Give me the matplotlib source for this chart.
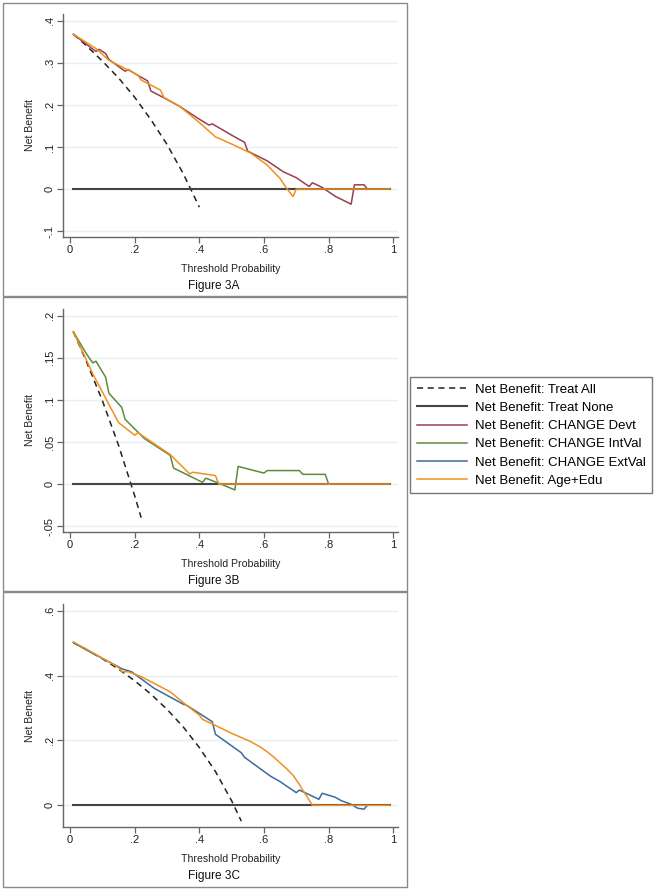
import matplotlib
matplotlib.use("Agg")
import matplotlib.pyplot as plt
from matplotlib.patches import Rectangle

plt.rcParams['font.family'] = ['Liberation Sans', 'DejaVu Sans']

# ---- data ----
x_ticks = [0, 0.2, 0.4, 0.6, 0.8, 1]
x_tick_labels = ['0', '.2', '.4', '.6', '.8', '1']

none_x = [0.01, 0.99]
none_y = [0.0, 0.0]

# Figure 3A
a_yticks = [-0.1, 0, 0.1, 0.2, 0.3, 0.4]
a_ylabels = ['-.1', '0', '.1', '.2', '.3', '.4']
a_all_x = [0.01, 0.05, 0.10, 0.15, 0.20, 0.25, 0.30, 0.35, 0.40]
a_all_y = [0.368, 0.341, 0.304, 0.264, 0.218, 0.165, 0.106, 0.037, -0.043]
a_devt_x = [0.01, 0.04, 0.08, 0.09, 0.11, 0.12, 0.17, 0.18, 0.21, 0.24, 0.25, 0.29,
            0.34, 0.40, 0.43, 0.44, 0.50, 0.54, 0.55, 0.61, 0.66, 0.70, 0.74, 0.75,
            0.78, 0.82, 0.87, 0.88, 0.91, 0.92]
a_devt_y = [0.368, 0.350, 0.327, 0.332, 0.322, 0.308, 0.280, 0.284, 0.270, 0.257, 0.233, 0.217,
            0.196, 0.166, 0.152, 0.155, 0.128, 0.111, 0.090, 0.067, 0.041, 0.027, 0.006, 0.015,
            0.004, -0.017, -0.036, 0.010, 0.010, 0.0]
a_age_x = [0.01, 0.08, 0.12, 0.21, 0.22, 0.28, 0.29, 0.34, 0.40, 0.45, 0.50, 0.56,
           0.61, 0.65, 0.67, 0.69, 0.70, 0.99]
a_age_y = [0.368, 0.334, 0.306, 0.271, 0.259, 0.235, 0.218, 0.196, 0.158, 0.124, 0.107, 0.085,
           0.057, 0.025, 0.002, -0.018, 0.0, 0.0]

# Figure 3B
b_yticks = [-0.05, 0, 0.05, 0.1, 0.15, 0.2]
b_ylabels = ['-.05', '0', '.05', '.1', '.15', '.2']
b_all_x = [0.01, 0.05, 0.10, 0.15, 0.20, 0.22]
b_all_y = [0.181, 0.146, 0.099, 0.046, -0.014, -0.040]
b_intval_x = [0.01, 0.05, 0.07, 0.08, 0.11, 0.12, 0.16, 0.17, 0.23, 0.31, 0.32, 0.41,
              0.42, 0.46, 0.51, 0.52, 0.60, 0.61, 0.71, 0.72, 0.79, 0.80]
b_intval_y = [0.181, 0.155, 0.144, 0.146, 0.127, 0.108, 0.091, 0.077, 0.054, 0.034, 0.019, 0.002,
              0.007, 0.001, -0.007, 0.021, 0.013, 0.016, 0.016, 0.0115, 0.0115, 0.0]
b_age_x = [0.01, 0.07, 0.15, 0.20, 0.21, 0.31, 0.37, 0.38, 0.45, 0.46, 0.99]
b_age_y = [0.181, 0.131, 0.073, 0.058, 0.061, 0.035, 0.012, 0.014, 0.010, 0.0, 0.0]

# Figure 3C
c_yticks = [0, 0.2, 0.4, 0.6]
c_ylabels = ['0', '.2', '.4', '.6']
c_all_x = [0.01, 0.05, 0.10, 0.15, 0.20, 0.25, 0.30, 0.35, 0.40, 0.45, 0.50, 0.53]
c_all_y = [0.502, 0.481, 0.452, 0.420, 0.384, 0.343, 0.296, 0.242, 0.178, 0.104, 0.014, -0.049]
c_extval_x = [0.01, 0.06, 0.15, 0.16, 0.19, 0.26, 0.35, 0.36, 0.44, 0.45, 0.53, 0.54,
              0.62, 0.65, 0.70, 0.71, 0.77, 0.78, 0.82, 0.84, 0.87, 0.89, 0.91, 0.92]
c_extval_y = [0.502, 0.474, 0.427, 0.421, 0.412, 0.361, 0.312, 0.309, 0.258, 0.219, 0.162, 0.148,
              0.090, 0.073, 0.039, 0.047, 0.0185, 0.037, 0.025, 0.014, 0.003, -0.009, -0.012, 0.0]
c_age_x = [0.01, 0.07, 0.15, 0.16, 0.18, 0.22, 0.31, 0.36, 0.40, 0.41, 0.44, 0.50,
           0.53, 0.56, 0.59, 0.61, 0.63, 0.65, 0.67, 0.69, 0.71, 0.72, 0.73, 0.74, 0.75, 0.99]
c_age_y = [0.504, 0.471, 0.425, 0.412, 0.412, 0.397, 0.350, 0.309, 0.278, 0.265, 0.251, 0.222,
           0.209, 0.196, 0.179, 0.165, 0.149, 0.131, 0.113, 0.093, 0.064, 0.047, 0.032, 0.016, 0.0, 0.0]

C_ALL = '#222222'
C_NONE = '#444444'
C_DEVT = '#96404F'
C_INTVAL = '#5E8A3E'
C_EXTVAL = '#3C6A9A'
C_AGE = '#F0901E'

W, H = 666, 892


def px_axes(fig, left, top, right, bottom):
    return fig.add_axes([left / W, 1 - bottom / H, (right - left) / W, (bottom - top) / H])


def style_panel(ax, yticks, ylabels, ylim):
    ax.set_xlim(-0.022, 1.015)
    ax.set_ylim(*ylim)
    ax.set_xticks(x_ticks)
    ax.set_xticklabels(x_tick_labels)
    ax.set_yticks(yticks)
    ax.set_yticklabels(ylabels, rotation=90, va='center')
    for s in ['top', 'right']:
        ax.spines[s].set_visible(False)
    for s in ['left', 'bottom']:
        ax.spines[s].set_color('#666666')
        ax.spines[s].set_linewidth(1.0)
    ax.tick_params(direction='out', length=4, width=0.9, color='#666666',
                   labelsize=8, labelcolor='#222222', pad=2)
    ax.grid(axis='y', color='#E6EFF1', linewidth=1.0)
    ax.set_axisbelow(True)
    ax.set_xlabel('Threshold Probability', fontsize=7.6, color='#222222')
    ax.xaxis.set_label_coords(0.5, -0.1435)
    ax.xaxis.label.set_va('center')
    ax.set_ylabel('Net Benefit', fontsize=7.6, color='#222222')
    ax.yaxis.set_label_coords(-0.0985, 0.5)
    ax.yaxis.label.set_va('center')


def plot_base(ax, all_x, all_y):
    h_all, = ax.plot(all_x, all_y, color=C_ALL, lw=1.1, ls=(0, (4, 3)))
    h_none, = ax.plot(none_x, none_y, color=C_NONE, lw=1.5)
    return h_all, h_none


fig = plt.figure(figsize=(W / 100, H / 100), dpi=100)

# panel frames
for top, bottom in [(3, 296), (297, 591), (592, 887)]:
    fig.patches.append(Rectangle((3 / W, 1 - bottom / H), 404 / W, (bottom - top) / H,
                                 transform=fig.transFigure, fill=False,
                                 edgecolor='#8A8A8A', linewidth=1.0))

# Figure 3A
ax_a = px_axes(fig, 63, 14, 398, 237)
h_all, h_none = plot_base(ax_a, a_all_x, a_all_y)
h_devt, = ax_a.plot(a_devt_x, a_devt_y, color=C_DEVT, lw=1.1)
h_age, = ax_a.plot(a_age_x, a_age_y, color=C_AGE, lw=1.1)
style_panel(ax_a, a_yticks, a_ylabels, (-0.114, 0.416))
fig.text(214 / W, 1 - 286 / H, 'Figure 3A', ha='center', va='center', fontsize=8.6, color='#111111')

# Figure 3B
ax_b = px_axes(fig, 63, 309, 398, 532)
plot_base(ax_b, b_all_x, b_all_y)
h_intval, = ax_b.plot(b_intval_x, b_intval_y, color=C_INTVAL, lw=1.1)
ax_b.plot(b_age_x, b_age_y, color=C_AGE, lw=1.1)
style_panel(ax_b, b_yticks, b_ylabels, (-0.057, 0.208))
fig.text(214 / W, 1 - 581 / H, 'Figure 3B', ha='center', va='center', fontsize=8.6, color='#111111')

# Figure 3C
ax_c = px_axes(fig, 63, 604, 398, 827)
plot_base(ax_c, c_all_x, c_all_y)
h_extval, = ax_c.plot(c_extval_x, c_extval_y, color=C_EXTVAL, lw=1.1)
ax_c.plot(c_age_x, c_age_y, color=C_AGE, lw=1.1)
style_panel(ax_c, c_yticks, c_ylabels, (-0.067, 0.621))
fig.text(214 / W, 1 - 876 / H, 'Figure 3C', ha='center', va='center', fontsize=8.6, color='#111111')

handles = [h_all, h_none, h_devt, h_intval, h_extval, h_age]
labels = ['Net Benefit: Treat All', 'Net Benefit: Treat None', 'Net Benefit: CHANGE Devt',
          'Net Benefit: CHANGE IntVal', 'Net Benefit: CHANGE ExtVal', 'Net Benefit: Age+Edu']
leg = fig.legend(handles, labels, loc='upper left', bbox_to_anchor=(410 / W, 1 - 377 / H),
                 fontsize=9.5, frameon=True, fancybox=False, edgecolor='#555555',
                 handlelength=3.8, handletextpad=0.6, labelspacing=0.45, borderpad=0.5,
                 borderaxespad=0)
leg.get_frame().set_linewidth(1.0)

fig.savefig('out.png', dpi=100)
